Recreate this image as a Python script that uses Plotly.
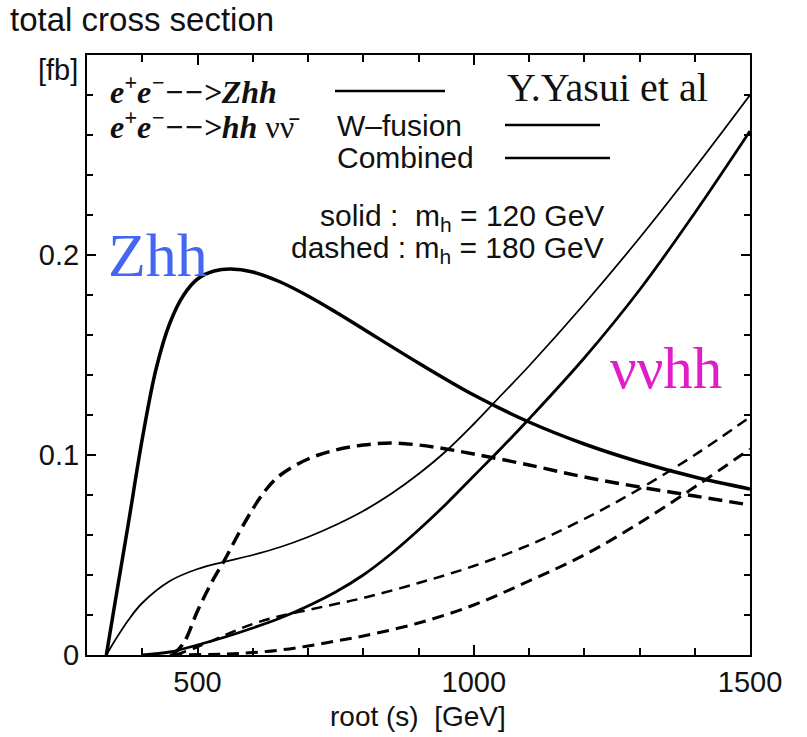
import plotly.graph_objects as go

# ---- data ----
zhh120_x = [335, 350, 375, 400, 425, 450, 475, 500, 530, 560, 600, 650, 700, 750, 800, 900, 1000, 1100, 1200, 1300, 1400, 1500]
zhh120_y = [0.0, 0.025, 0.066, 0.108, 0.143, 0.166, 0.180, 0.188, 0.192, 0.193, 0.1915, 0.1865, 0.1795, 0.1715, 0.163, 0.146, 0.130, 0.1165, 0.1055, 0.0965, 0.089, 0.083]

zhh180_x = [455, 475, 500, 525, 550, 575, 600, 625, 650, 700, 750, 800, 850, 900, 950, 1000, 1100, 1200, 1300, 1400, 1500]
zhh180_y = [0.0, 0.006, 0.022, 0.036, 0.048, 0.061, 0.073, 0.083, 0.090, 0.098, 0.1025, 0.105, 0.106, 0.105, 0.103, 0.1005, 0.095, 0.089, 0.084, 0.0795, 0.075]

comb120_x = [335, 350, 375, 400, 450, 500, 550, 600, 650, 700, 750, 800, 850, 900, 950, 1000, 1050, 1100, 1200, 1300, 1400, 1500]
comb120_y = [0.0, 0.007, 0.0175, 0.026, 0.037, 0.043, 0.0467, 0.050, 0.054, 0.059, 0.065, 0.072, 0.0805, 0.0905, 0.102, 0.1155, 0.130, 0.1445, 0.1755, 0.2085, 0.2435, 0.280]

wf120_x = [400, 450, 500, 550, 600, 650, 700, 750, 800, 850, 900, 950, 1000, 1050, 1100, 1200, 1300, 1400, 1500]
wf120_y = [0.0, 0.0015, 0.005, 0.009, 0.0135, 0.0185, 0.0245, 0.0315, 0.040, 0.0505, 0.0625, 0.0755, 0.0895, 0.1035, 0.118, 0.1485, 0.1825, 0.221, 0.262]

comb180_x = [460, 500, 550, 600, 650, 700, 750, 800, 900, 1000, 1100, 1200, 1300, 1400, 1500]
comb180_y = [0.0, 0.004, 0.010, 0.0155, 0.0195, 0.0225, 0.0255, 0.0285, 0.036, 0.0445, 0.055, 0.068, 0.083, 0.100, 0.119]

wf180_x = [450, 550, 600, 650, 700, 750, 800, 900, 1000, 1100, 1200, 1300, 1400, 1500]
wf180_y = [0.0, 0.0005, 0.0012, 0.0025, 0.0045, 0.007, 0.0095, 0.016, 0.025, 0.037, 0.050, 0.066, 0.084, 0.103]

x_major = [500, 1000, 1500]
x_major_text = ["500", "1000", "1500"]
y_major = [0, 0.1, 0.2]
y_major_text = ["0", "0.1", "0.2"]

fig = go.Figure()

def add(x, y, width, dash):
    fig.add_trace(go.Scatter(x=x, y=y, mode="lines",
                             line=dict(color="black", width=width, dash=dash,
                                       shape="spline", smoothing=1.0),
                             showlegend=False, hoverinfo="skip"))

add(zhh120_x, zhh120_y, 3.5, "solid")
add(zhh180_x, zhh180_y, 3.5, "14px,7px")
add(comb120_x, comb120_y, 1.8, "solid")
add(wf120_x, wf120_y, 2.8, "solid")
add(comb180_x, comb180_y, 2.5, "11px,7px")
add(wf180_x, wf180_y, 3.0, "12px,7px")

sans = "Liberation Sans, Arial, sans-serif"
serif = "Liberation Serif, Times New Roman, serif"

fig.update_layout(
    width=807, height=737,
    margin=dict(l=87, r=57, t=55, b=82),
    paper_bgcolor="white", plot_bgcolor="white",
    xaxis=dict(range=[300, 1500], tickvals=x_major, ticktext=x_major_text,
               ticks="inside", ticklen=10, tickwidth=1.5, tickcolor="black",
               minor=dict(dtick=100, tick0=0, ticks="inside", ticklen=7, tickwidth=1.5, tickcolor="black"),
               showline=True, linecolor="black", linewidth=2, mirror="allticks",
               showgrid=False, zeroline=False,
               tickfont=dict(family=sans, size=29, color="#111")),
    yaxis=dict(range=[0, 0.3], tickvals=y_major, ticktext=y_major_text,
               ticks="inside", ticklen=9, tickwidth=1.5, tickcolor="black",
               minor=dict(dtick=0.02, tick0=0, ticks="inside", ticklen=6, tickwidth=1.5, tickcolor="black"),
               showline=True, linecolor="black", linewidth=2, mirror="allticks",
               showgrid=False, zeroline=False,
               tickfont=dict(family=sans, size=29, color="#111")),
)

def px(xp):
    return (xp - 87) / 663.0

def py(yp):
    return (655 - yp) / 600.0

def note(text, x, y, xanchor="left", size=26, family=sans, color="#111"):
    fig.add_annotation(text=text, x=px(x), y=py(y), xref="paper", yref="paper",
                       xanchor=xanchor, yanchor="middle", showarrow=False,
                       font=dict(family=family, size=size, color=color))

note("total cross section", 8, 20, size=33)
note("[fb]", 80, 70, xanchor="right", size=29)
note("root (s)  [GeV]", 418, 716, xanchor="center", size=28)

note("<b><i>e<sup>+</sup>e<sup>−</sup>−−&gt;Zhh</i></b>", 108, 90, size=32, family=serif)
note("<b><i>e<sup>+</sup>e<sup>−</sup>−−&gt;hh</i></b> νν̄", 108, 125, size=32, family=serif)
note("W–fusion", 335, 125, size=30)
note("Combined", 335, 157, size=30)
note("Y.Yasui et al", 505, 87, size=40, family=serif)
note("solid :  m<sub>h</sub> = 120 GeV", 606, 218, xanchor="right", size=30)
note("dashed : m<sub>h</sub> = 180 GeV", 606, 250, xanchor="right", size=30)
note("Zhh", 106, 255, size=62, family=serif, color="#4466f0")
note("ννhh", 608, 368, size=59, family=serif, color="#e01ec8")

for (x0, x1, yy) in [(335, 445, 91), (505, 600, 125), (505, 610, 158)]:
    fig.add_shape(type="line", xref="paper", yref="paper",
                  x0=px(x0), x1=px(x1), y0=py(yy), y1=py(yy),
                  line=dict(color="black", width=2.5))

fig.write_html("out.html")
